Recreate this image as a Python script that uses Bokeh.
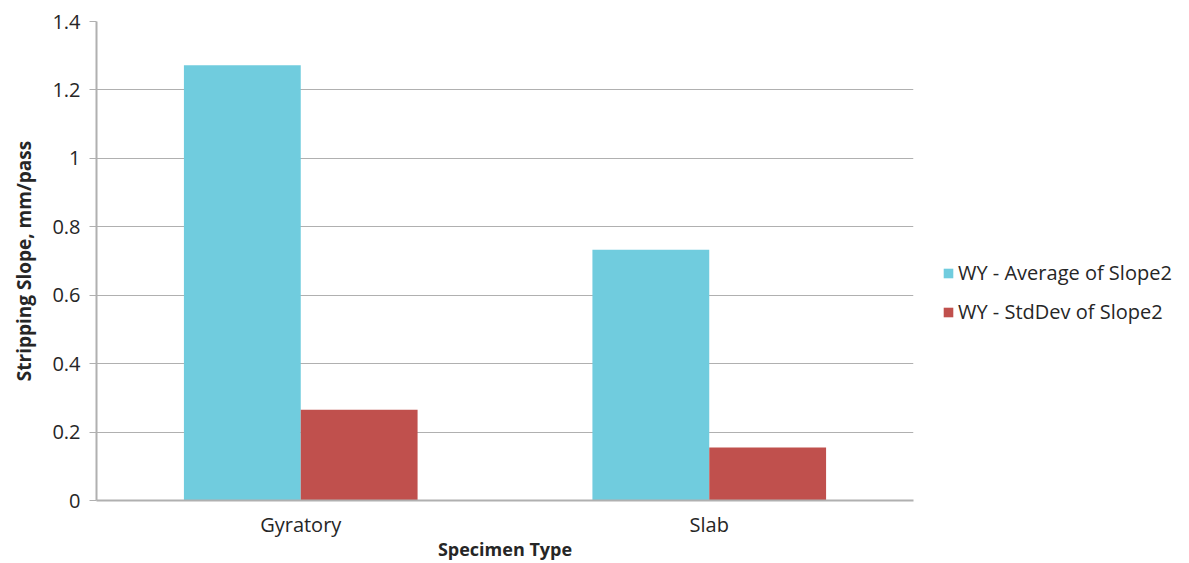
from bokeh.plotting import figure
from bokeh.models import ColumnDataSource, FactorRange, Range1d, FixedTicker, CustomJSTickFormatter, Legend, LegendItem
from bokeh.transform import dodge
from bokeh.embed import file_html
from bokeh.resources import INLINE

categories = ["Gyratory", "Slab"]
avg_slope2 = [1.272, 0.733]
std_slope2 = [0.265, 0.155]
series_names = ["WY - Average of Slope2", "WY - StdDev of Slope2"]
y_ticks = [0, 0.2, 0.4, 0.6, 0.8, 1.0, 1.2, 1.4]

FONT = "Open Sans"
TXT = "#262626"
GRID = "#b0b0b0"

src = ColumnDataSource(dict(cat=categories, avg=avg_slope2, std=std_slope2))

p = figure(x_range=FactorRange(factors=categories, range_padding=0),
           y_range=Range1d(0, 1.4),
           frame_width=817, frame_height=479,
           output_backend="svg", toolbar_location=None,
           min_border_left=96, min_border_top=21, min_border_right=276, min_border_bottom=58)
p.outline_line_color = None
p.background_fill_color = "white"

bw = 0.286
r1 = p.vbar(x=dodge("cat", -bw / 2, range=p.x_range), top="avg", width=bw, source=src,
            fill_color="#70CCDE", line_color=None)
r2 = p.vbar(x=dodge("cat", bw / 2, range=p.x_range), top="std", width=bw, source=src,
            fill_color="#C0504D", line_color=None)

# y axis
p.yaxis.ticker = FixedTicker(ticks=y_ticks)
p.yaxis.formatter = CustomJSTickFormatter(code="return tick.toFixed(1).replace(/\\.0$/, '');")
p.yaxis.axis_line_color = GRID
p.yaxis.axis_line_width = 2
p.yaxis.major_tick_line_color = GRID
p.yaxis.major_tick_out = 7
p.yaxis.major_tick_in = 0
p.yaxis.minor_tick_line_color = None
p.yaxis.major_label_text_font = FONT
p.yaxis.major_label_text_font_size = "20px"
p.yaxis.major_label_text_color = TXT
p.yaxis.major_label_standoff = 9
p.yaxis.axis_label = "Stripping Slope, mm/pass"
p.yaxis.axis_label_text_font = FONT
p.yaxis.axis_label_text_font_style = "bold"
p.yaxis.axis_label_text_font_size = "19px"
p.yaxis.axis_label_text_color = TXT
p.yaxis.axis_label_standoff = 12

# x axis
p.xaxis.axis_line_color = GRID
p.xaxis.axis_line_width = 2
p.xaxis.major_tick_line_color = None
p.xaxis.minor_tick_line_color = None
p.xaxis.major_label_text_font = FONT
p.xaxis.major_label_text_font_size = "20px"
p.xaxis.major_label_text_color = TXT
p.xaxis.major_label_standoff = 4
p.xaxis.axis_label = "Specimen Type"
p.xaxis.axis_label_text_font = FONT
p.xaxis.axis_label_text_font_style = "bold"
p.xaxis.axis_label_text_font_size = "18px"
p.xaxis.axis_label_text_color = TXT
p.xaxis.axis_label_standoff = -4

p.xgrid.grid_line_color = None
p.ygrid.grid_line_color = GRID
p.ygrid.grid_line_width = 1

legend = Legend(items=[LegendItem(label=series_names[0], renderers=[r1]),
                       LegendItem(label=series_names[1], renderers=[r2])],
                location=(29, 175), orientation="vertical")
legend.border_line_color = None
legend.background_fill_alpha = 0
legend.label_text_font = FONT
legend.label_text_font_size = "20px"
legend.label_text_color = TXT
legend.glyph_width = 12
legend.glyph_height = 12
legend.label_standoff = 4
legend.spacing = 12
legend.padding = 0
legend.margin = 0
p.add_layout(legend, "right")

open("out.html", "w").write(file_html(p, INLINE))
